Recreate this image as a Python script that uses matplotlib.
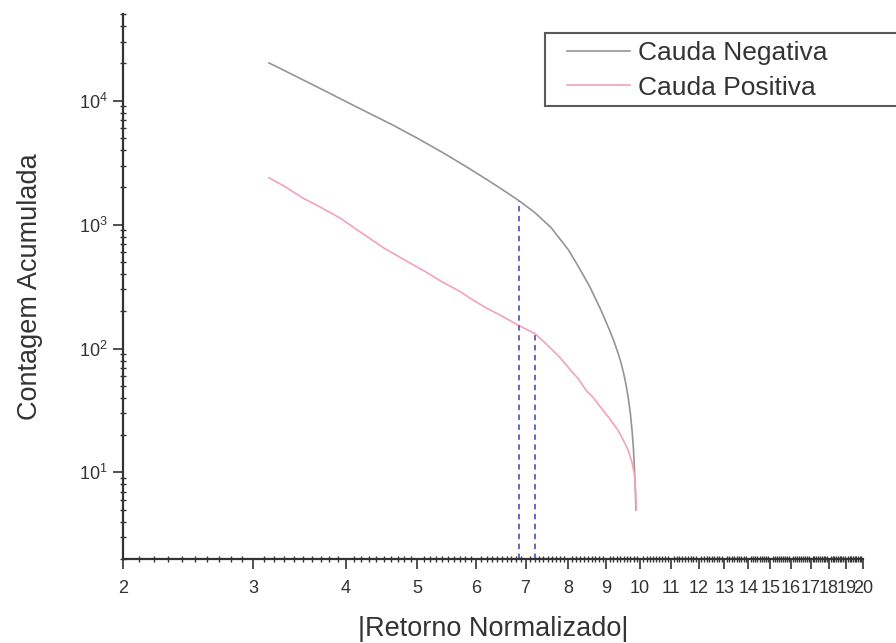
import matplotlib

matplotlib.use("Agg")
import matplotlib.pyplot as plt
import matplotlib.ticker as ticker
from matplotlib.patches import Rectangle
import numpy as np

# Cumulative counts of |normalized return| for each tail
NEG_X = [3.15, 3.4, 3.7, 4.0, 4.3, 4.6, 5.0, 5.4, 5.8, 6.2, 6.5, 6.86, 7.2,
         7.58, 8.0, 8.25, 8.55, 8.86, 9.1, 9.22, 9.34, 9.42, 9.5, 9.57, 9.64,
         9.7, 9.75, 9.79, 9.82, 9.85, 9.87]
NEG_Y = [20200, 16100, 12500, 9870, 7940, 6500, 4980, 3840, 2975, 2320, 1933,
         1560, 1255, 946, 625, 460, 315, 202, 139, 114, 91, 77, 63, 51, 39.5,
         30, 22, 16, 11.5, 7.5, 5]

POS_X = [3.15, 3.3, 3.5, 3.7, 3.94, 4.2, 4.5, 4.8, 5.1, 5.4, 5.7, 5.96, 6.2,
         6.48, 6.86, 7.21, 7.5, 7.8, 8.07, 8.25, 8.45, 8.65, 8.86, 9.1, 9.34,
         9.5, 9.64, 9.75, 9.82, 9.86, 9.88]
POS_Y = [2390, 2050, 1640, 1380, 1120, 860, 650, 520, 425, 345, 290, 244, 212,
         185, 153, 132, 106, 84, 66, 57, 46, 40, 33, 27, 21.8, 18, 15, 12,
         9.8, 7, 5]

# Thresholds marked with dashed drop lines (one per tail)
CUT_NEG = 6.86
CUT_POS = 7.21

X_TICKS = list(range(2, 21))
Y_TICKS = [10, 100, 1000, 10000]

plt.rcParams["font.family"] = ["Liberation Sans", "DejaVu Sans"]
plt.rcParams["mathtext.default"] = "regular"

TEXT = "#333333"


def log_interp(x, xs, ys):
    return 10 ** np.interp(np.log10(x), np.log10(xs), np.log10(ys))


fig = plt.figure(figsize=(8.96, 6.43), dpi=100)
ax = fig.add_axes([0.1373, 0.1306, 0.963 - 0.1373, 0.978 - 0.1306])

ax.plot(NEG_X, NEG_Y, color="#959595", linewidth=1.2, label="Cauda Negativa")
ax.plot(POS_X, POS_Y, color="#f3a3b6", linewidth=1.2, label="Cauda Positiva")

ymin = 2
dash = dict(color="#5a5ac8", linestyles=(0, (3, 2.5)), linewidth=1.3)
ax.vlines(CUT_NEG, ymin, log_interp(CUT_NEG, NEG_X, NEG_Y), **dash)
ax.vlines(CUT_POS, ymin, log_interp(CUT_POS, POS_X, POS_Y), **dash)

ax.set_xscale("log")
ax.set_yscale("log")
ax.set_xlim(2, 20)
ax.set_ylim(ymin, 5e4)

ax.xaxis.set_major_locator(ticker.FixedLocator(X_TICKS))
ax.xaxis.set_major_formatter(ticker.FixedFormatter([str(t) for t in X_TICKS]))
ax.xaxis.set_minor_locator(ticker.FixedLocator(np.arange(2.0, 20.01, 0.1)))
ax.xaxis.set_minor_formatter(ticker.NullFormatter())

ax.yaxis.set_major_locator(ticker.FixedLocator(Y_TICKS))
ax.yaxis.set_major_formatter(ticker.LogFormatterMathtext())
ax.yaxis.set_minor_locator(ticker.LogLocator(base=10, subs=np.arange(2, 10)))
ax.yaxis.set_minor_formatter(ticker.NullFormatter())

for side in ("top", "right"):
    ax.spines[side].set_visible(False)
for side in ("left", "bottom"):
    ax.spines[side].set_linewidth(1.6)
    ax.spines[side].set_color(TEXT)

ax.tick_params(which="major", direction="out", length=7, width=1.2,
               color=TEXT, labelsize=13, labelcolor=TEXT)
ax.tick_params(axis="x", which="major", pad=8)
ax.tick_params(axis="y", which="major", pad=4)
ax.tick_params(which="minor", direction="inout", length=5, width=1.0,
               color=TEXT)

ax.set_xlabel("|Retorno Normalizado|", fontsize=19.5, color=TEXT, labelpad=14)
ax.set_ylabel("Contagem Acumulada", fontsize=19.5, color=TEXT, labelpad=26)

# legend box runs off the right edge of the figure
ax.add_patch(Rectangle((545 / 896, 1 - 106 / 643), 0.45, 73 / 643,
                       transform=fig.transFigure, facecolor="white",
                       edgecolor="#5a5a5a", linewidth=1.5, clip_on=False,
                       zorder=4))
leg = ax.legend(loc="upper left", bbox_to_anchor=(567 / 896, 1 - 41 / 643),
                bbox_transform=fig.transFigure, fontsize=19, frameon=False,
                handlelength=2.4, handletextpad=0.3, labelspacing=0.4,
                borderpad=0, borderaxespad=0)
leg.set_zorder(5)
for t in leg.get_texts():
    t.set_color(TEXT)

fig.savefig("out.png", dpi=100)
